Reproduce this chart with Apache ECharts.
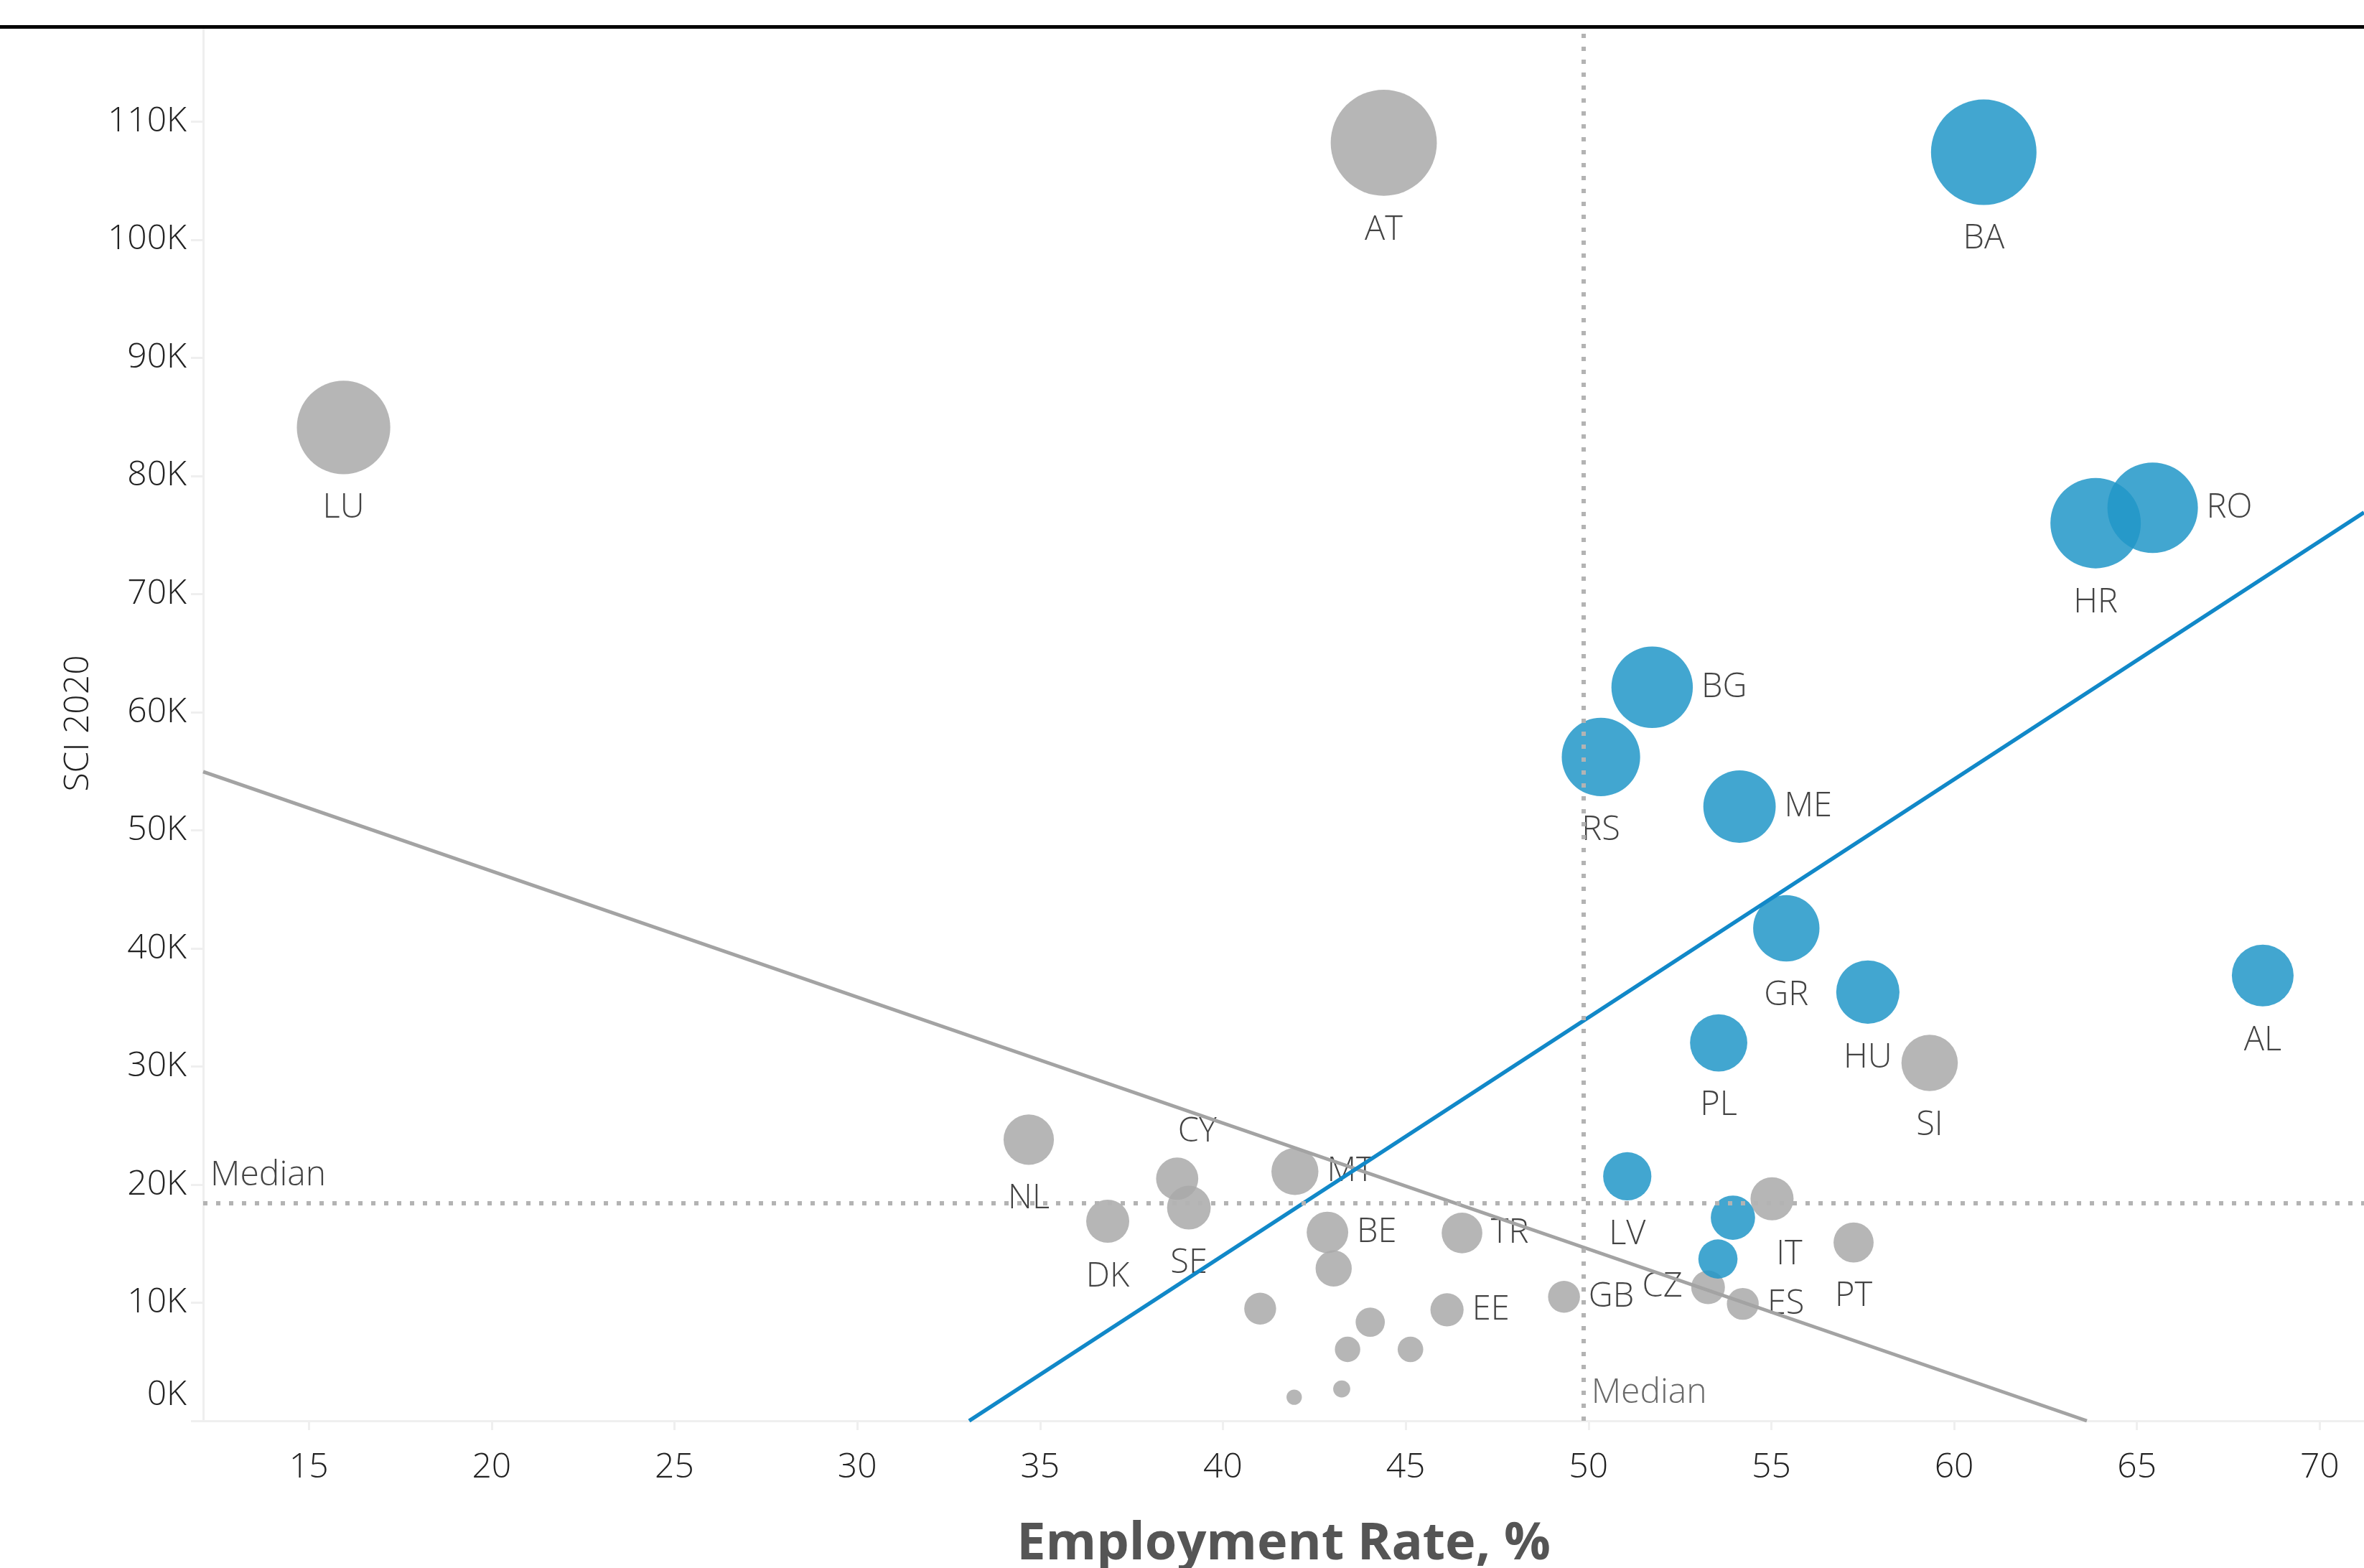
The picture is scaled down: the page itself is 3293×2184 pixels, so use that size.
<!DOCTYPE html>
<html>
<head>
<meta charset="utf-8">
<script src="https://cdn.jsdelivr.net/npm/echarts@6/dist/echarts.min.js"></script>
<style>
html,body{margin:0;padding:0;background:#ffffff;}
#chart{width:3293px;height:2184px;}
</style>
</head>
<body>
<div id="chart"></div>
<script>
// ---------- DATA ----------
const countryCodes = ['AT','BA','LU','HR','RO','BG','RS','ME','GR','HU','AL','PL','SI','NL','CY','MT','SE','DK','BE','TR','EE','GB','LV','IT','CZ','ES','PT','','','','','','','','',''];
const employmentRate = [44.40,60.81,15.95,63.87,65.43,51.74,50.34,54.13,55.41,57.64,68.44,53.56,59.33,34.69,38.75,41.97,39.07,36.85,42.86,46.54,46.13,49.33,51.06,55.02,53.27,54.22,57.25,53.95,53.54,43.03,41.02,44.03,43.41,45.13,41.95,43.25];
const sci2020 = [108200,107400,84100,76000,77300,62100,56200,52000,41700,36300,37700,32000,30300,23800,20500,21100,18050,16900,15950,15900,9400,10500,20700,18800,11300,9900,15100,17200,13700,12900,9500,8350,6050,6050,2000,2700];
const sizeMeasure = [1239,1225,961,900,900,729,676,576,484,441,420,361,350,279,196,243,210,204,190,182,121,112,256,204,125,112,177,216,169,144,112,94,71,72,26,32];
const groupFlag = ['other','focus','other','focus','focus','focus','focus','focus','focus','focus','focus','focus','other','other','other','other','other','other','other','other','other','other','focus','other','other','other','other','focus','focus','other','other','other','other','other','other','other'];
const trendOther = [[12.11,54950],[63.63,0]];
const trendFocus = [[33.06,0],[71.21,76900]];
const medianEmployment = 49.86;
const medianSCI = 18440;
const xTickValues = [15,20,25,30,35,40,45,50,55,60,65,70];
const yTickValues = [0,10000,20000,30000,40000,50000,60000,70000,80000,90000,100000,110000];
const xAxisTitle = 'Employment Rate, %';
const yAxisTitle = 'SCI 2020';
const medianText = 'Median';

// ---------- STYLE ----------
const FONT = 'Open Sans';
const LIGHT = 300;
const TXT = '#222';
const labelPlacement = {RO:'right',BG:'right',ME:'right',MT:'right',BE:'right',TR:'right',EE:'right',GB:'right',ES:'right',CY:'top',CZ:'left'};
const labelShift = {CY:[28,0], IT:[24,0]};
const groupColor = {focus:'#2196c8', other:'#a9a9a9'};

function buildItems(group){
  const out = [];
  for (let i = 0; i < countryCodes.length; i++){
    if (groupFlag[i] !== group) continue;
    const code = countryCodes[i];
    const pos = labelPlacement[code] || 'bottom';
    out.push({
      name: code,
      value: [employmentRate[i], sci2020[i], sizeMeasure[i]],
      label: {
        show: code !== '',
        position: pos,
        distance: pos === 'bottom' ? 24 : 12,
        offset: labelShift[code] || [0,0]
      }
    });
  }
  return out;
}

const bubbleSeries = (group) => ({
  type: 'scatter',
  name: group,
  z: 3,
  data: buildItems(group),
  symbolSize: (v) => 4.2 * Math.sqrt(v[2]),
  itemStyle: {color: groupColor[group], opacity: 0.85},
  label: {formatter: '{b}', fontFamily: FONT, fontWeight: LIGHT, fontSize: 47, color: TXT},
  emphasis: {disabled: true},
  silent: true
});

const chart = echarts.init(document.getElementById('chart'), null, {renderer: 'canvas'});
chart.setOption({
  backgroundColor: '#ffffff',
  animation: false,
  graphic: [{type: 'rect', left: 0, top: 35, shape: {width: 3293, height: 5}, style: {fill: '#000'}, z: 10}],
  grid: {left: 283, right: 0, top: 36, bottom: 205, containLabel: false, outerBoundsMode: 'none'},
  xAxis: {
    type: 'value', min: 12.11, max: 71.21,
    name: xAxisTitle, nameLocation: 'middle', nameGap: 136,
    nameTextStyle: {fontFamily: FONT, fontSize: 72, fontWeight: 'bold', color: '#555'},
    axisLine: {show: true, onZero: false, lineStyle: {color: '#efefef', width: 3}},
    axisTick: {show: true, length: 13, lineStyle: {color: '#efefef', width: 3}, customValues: xTickValues},
    axisLabel: {customValues: xTickValues, margin: 41, fontFamily: FONT, fontWeight: LIGHT, fontSize: 48, color: TXT},
    splitLine: {show: false}
  },
  yAxis: {
    type: 'value', min: 0, max: 118100,
    name: yAxisTitle, nameLocation: 'middle', nameGap: 150, nameRotate: 90,
    nameTextStyle: {fontFamily: FONT, fontWeight: LIGHT, fontSize: 48, color: TXT},
    axisLine: {show: true, onZero: false, lineStyle: {color: '#efefef', width: 3}},
    axisTick: {show: true, length: 17, lineStyle: {color: '#efefef', width: 3}, customValues: yTickValues},
    axisLabel: {
      customValues: yTickValues, margin: 23, fontFamily: FONT, fontWeight: LIGHT, fontSize: 48, color: TXT,
      formatter: (v) => v === 0 ? '{z|0K}' : (v / 1000) + 'K',
      rich: {z: {fontFamily: FONT, fontWeight: LIGHT, fontSize: 48, color: TXT, padding: [0, 0, 72, 0]}}
    },
    splitLine: {show: false}
  },
  series: [
    {
      type: 'scatter', data: [], z: 1, silent: true,
      markLine: {
        silent: true, symbol: 'none', animation: false,
        lineStyle: {color: '#b3b3b3', width: 6, type: [6, 12], cap: 'butt'},
        data: [
          {xAxis: medianEmployment, label: {show: false}},
          {yAxis: medianSCI, label: {show: true, formatter: medianText, position: 'insideStartTop', distance: [10, 14], fontFamily: FONT, fontWeight: LIGHT, fontSize: 48, color: '#444'}}
        ]
      }
    },
    {
      type: 'scatter', z: 2, silent: true, symbolSize: 0,
      data: [{value: [medianEmployment, 0], name: medianText}],
      label: {show: true, formatter: '{b}', position: 'right', distance: 11, offset: [0, -39], fontFamily: FONT, fontWeight: LIGHT, fontSize: 48, color: '#444'}
    },
    bubbleSeries('other'),
    bubbleSeries('focus'),
    {
      type: 'line', data: trendOther, showSymbol: false, z: 4, silent: true, clip: true,
      lineStyle: {color: '#a3a3a3', width: 5}
    },
    {
      type: 'line', data: trendFocus, showSymbol: false, z: 4, silent: true, clip: true,
      lineStyle: {color: '#1188c8', width: 5.5}
    }
  ]
});
</script>
</body>
</html>
